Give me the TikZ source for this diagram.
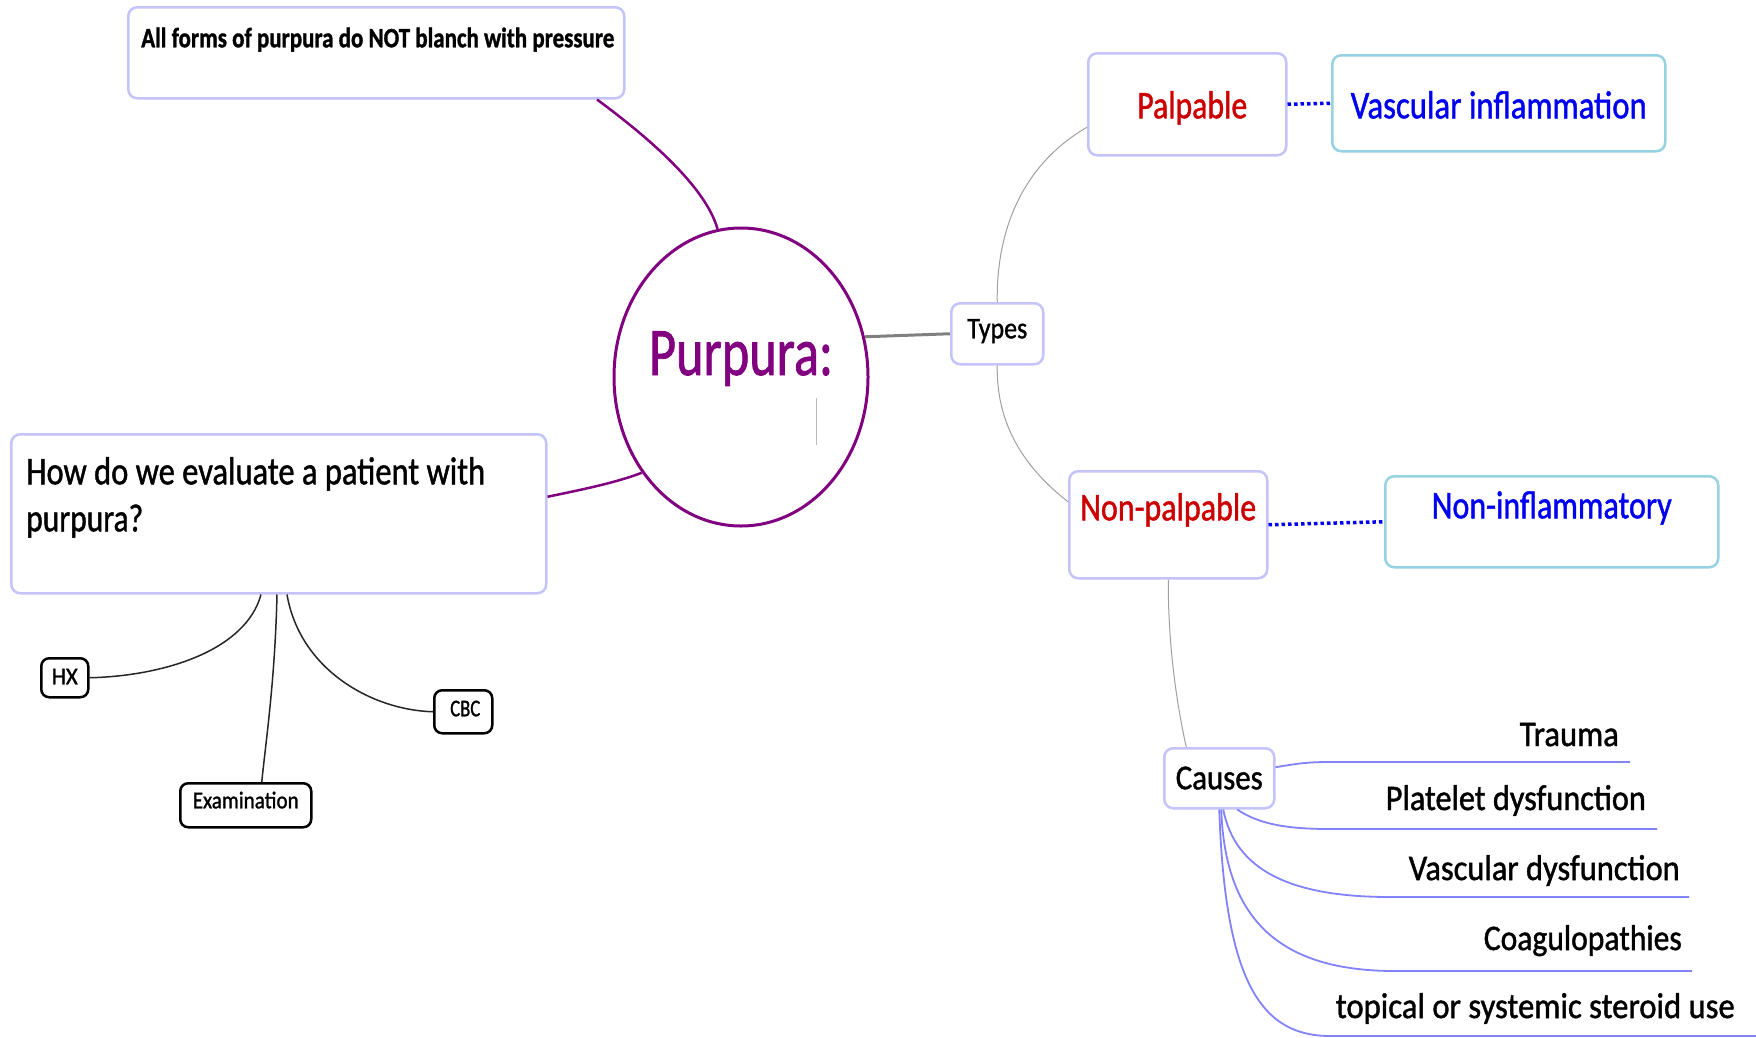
\documentclass[tikz,border=0pt]{standalone}
\usepackage{fontspec}
\setmainfont{Carlito}[FakeBold=1.3]
\usetikzlibrary{shapes.geometric}
\definecolor{lav}{RGB}{196,196,250}
\definecolor{cyanb}{RGB}{150,210,225}
\definecolor{purp}{RGB}{128,0,128}
\definecolor{redt}{RGB}{204,0,0}
\definecolor{bluet}{RGB}{0,0,240}
\definecolor{causel}{RGB}{130,130,250}
\definecolor{thing}{RGB}{160,160,160}
\newcommand\fz[1]{\fontsize{#1pt}{#1pt}\selectfont}
\newcommand\fx[2]{\resizebox{#1pt}{\height}{#2}}
\tikzset{
  bx/.style={draw=lav, line width=2.5pt, rounded corners=9pt, fill=white, inner sep=0pt, anchor=north west},
  bk/.style={draw=black, line width=2.5pt, rounded corners=8pt, fill=white, inner sep=0pt, anchor=north west},
  pconn/.style={draw=purp, line width=2.5pt},
  gconn/.style={draw=gray, line width=3pt},
  tconn/.style={draw=thing, line width=1pt},
  dconn/.style={draw=bluet, line width=3.5pt, dash pattern=on 3.5pt off 3pt},
  kconn/.style={draw=black!85, line width=1.5pt},
  cconn/.style={draw=causel, line width=1.8pt},
  clab/.style={anchor=base east, inner sep=0pt}
}
\begin{document}
\begin{tikzpicture}[x=1pt,y=-1pt]
\useasboundingbox (0,0) rectangle (1756,1037);
\fill[white] (0,0) rectangle (1756,1037);

% nodes
\node[bx, minimum width=496pt, text height=40pt, text depth=51pt] (note) at (127,6)
  {\makebox[496pt][l]{\hspace*{13pt}\fz{28}\fx{473}{\bfseries All forms of purpura do NOT blanch with pressure}}};
\node[bx, minimum width=535pt, text height=50pt, text depth=109pt] (quest) at (10,433)
  {\makebox[535pt][l]{\hspace*{15pt}\parbox[t]{500pt}{\fontsize{39pt}{47pt}\selectfont\fx{459}{How do we evaluate a patient with}\\\fx{117}{purpura?}}}};
\node[ellipse, draw=purp, line width=3pt, fill=white, minimum width=254pt, minimum height=298pt, inner sep=0pt, text height=36pt, text depth=40pt, text=purp] (main) at (741,377)
  {\makebox[0pt]{\fz{68}\fx{184}{Purpura:}}};
\draw[thing!70, line width=0.8pt] (816,398) -- (816,445);
\node[bx, minimum width=92pt, text height=35pt, text depth=26pt] (types) at (950,302) {\fz{30}\fx{60}{Types}};
\node[bx, minimum width=198pt, text height=65pt, text depth=37pt, text=redt] (palp) at (1087,52) {\fz{39}\hspace*{10pt}\fx{110}{Palpable}};
\node[bx, draw=cyanb, minimum width=333pt, text height=63pt, text depth=33pt, text=bluet] (vasc) at (1331,54) {\fz{39}\fx{296}{Vascular inflammation}};
\node[bx, minimum width=198pt, text height=49pt, text depth=58pt, text=redt] (np) at (1068,470) {\fz{39}\fx{176}{Non-palpable}};
\node[bx, draw=cyanb, minimum width=333pt, text height=42pt, text depth=49pt, text=bluet] (noninf) at (1384,475) {\fz{39}\fx{240}{Non-inflammatory}};
\node[bx, minimum width=110pt, text height=41pt, text depth=19pt] (causes) at (1163,747) {\fz{35}\fx{87}{Causes}};
\node[bk, minimum width=47pt, text height=26pt, text depth=13pt] (hx) at (40,657) {\fz{24}\fx{26}{HX}};
\node[bk, minimum width=58pt, text height=26pt, text depth=17pt] (cbc) at (433,689) {\fz{24}\hspace*{4pt}\fx{30}{CBC}};
\node[bk, minimum width=131pt, text height=25pt, text depth=19pt] (exam) at (179,782) {\fz{24}\fx{106}{Examination}};

\node[clab] (c1) at (1619,746) {\fz{36}\fx{99}{Trauma}};
\node[clab] (c2) at (1646,810) {\fz{36}\fx{260}{Platelet dysfunction}};
\node[clab] (c3) at (1680,880) {\fz{36}\fx{271}{Vascular dysfunction}};
\node[clab] (c4) at (1682,950) {\fz{36}\fx{198}{Coagulopathies}};
\node[clab] (c5) at (1735,1018) {\fz{36}\fx{399}{topical or systemic steroid use}};

\coordinate (e1) at (1630,762);
\coordinate (e2) at (1657,829);
\coordinate (e3) at (1689,897);
\coordinate (e4) at (1692,971);
\coordinate (e5) at (1756,1036);

% connectors
\draw[pconn] ([xshift=470pt]note.south west) .. controls (645,135) and (705,185) .. (main.99);
\draw[pconn] ([yshift=17pt]quest.east) .. controls (580,490) and (615,483) .. (main.224);
\draw[gconn] (main.18) -- (types.west);
\draw[tconn] (types.north) .. controls (996,220) and (1030,160) .. ([yshift=-23pt]palp.west);
\draw[tconn] (types.south) .. controls (996,430) and (1030,472) .. ([yshift=23pt]np.west);
\draw[tconn] (np.south) .. controls (1168,650) and (1178,710) .. ([xshift=-33pt]causes.north);
\draw[dconn] (palp.east) -- (vasc.west);
\draw[dconn] (np.east) -- (noninf.west);

\draw[kconn] ([xshift=251pt]quest.south west) .. controls (246,650) and (165,676) .. (hx.east);
\draw[kconn] ([xshift=267pt]quest.south west) .. controls (275,680) and (266,740) .. ([xshift=16pt]exam.north);
\draw[kconn] ([xshift=277pt]quest.south west) .. controls (300,670) and (372,710) .. (cbc.west);

\draw[cconn] ([yshift=11pt]causes.east) .. controls (1300,763) and (1310,762) .. (1330,762) -- (e1);
\draw[cconn] ([xshift=18pt]causes.south) .. controls (1260,825) and (1290,829) .. (1330,829) -- (e2);
\draw[cconn] ([xshift=4pt]causes.south) .. controls (1235,870) and (1290,897) .. (1390,897) -- (e3);
\draw[cconn] ([xshift=2pt]causes.south) .. controls (1225,920) and (1280,971) .. (1395,971) -- (e4);
\draw[cconn] (causes.south) .. controls (1225,980) and (1260,1036) .. (1330,1036) -- (e5);
\end{tikzpicture}
\end{document}
